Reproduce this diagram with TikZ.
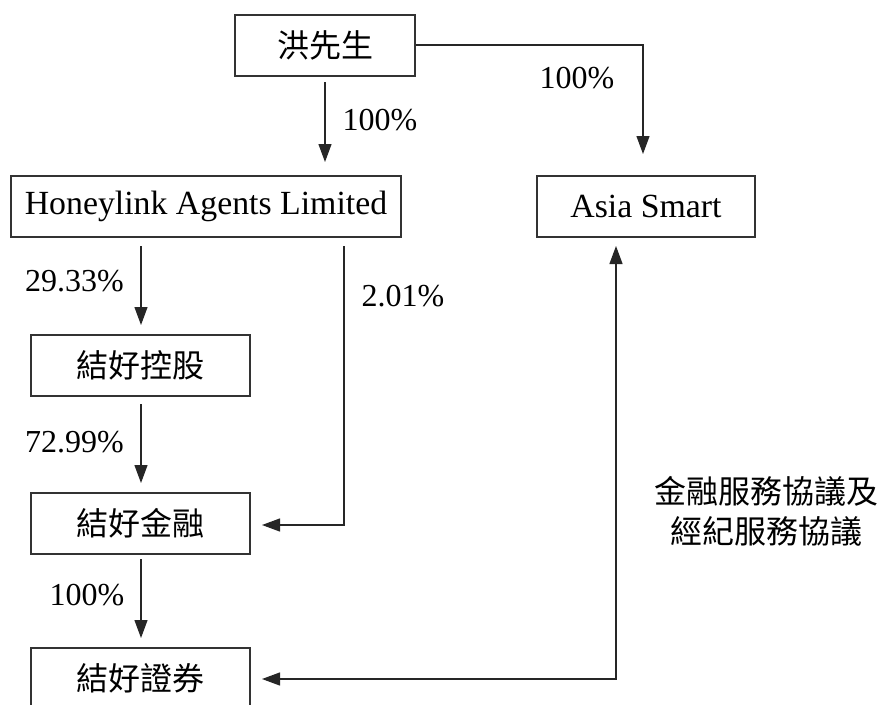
\documentclass[tikz,border=0pt]{standalone}
\usepackage{fontspec}
\setmainfont{Liberation Serif}
\newfontfamily\cjk{Noto Sans CJK TC}
\usetikzlibrary{arrows.meta}
\begin{document}
\begin{tikzpicture}[x=1pt,y=-1pt,
  box/.style={draw=black!80,line width=1.1pt,minimum height=61pt,inner sep=0pt,font=\fontsize{32}{36}\selectfont},
  latinbox/.style={box,font=\fontsize{33.8}{38}\selectfont},
  conn/.style={draw=black!85,line width=1.2pt},
  arr/.style={conn,-{Triangle[length=18pt,width=13pt]}},
  darr/.style={conn,{Triangle[length=18pt,width=13pt]}-{Triangle[length=18pt,width=13pt]}},
  lbl/.style={font=\fontsize{32}{36}\selectfont,inner sep=0pt}]
\clip (0,0) rectangle (880,704);
\fill[white] (0,0) rectangle (880,704);
% boxes
\node[box,minimum width=180pt] (hung) at (325,45.5) {\cjk 洪先生};
\node[latinbox,minimum width=390pt] (honey) at (206,206.5) {Honeylink Agents Limited};
\node[latinbox,minimum width=218pt] (asia) at (646,206.5) {Asia Smart};
\node[box,minimum width=219pt] (hold) at (140.5,365.5) {\cjk 結好控股};
\node[box,minimum width=219pt] (fin) at (140.5,523.5) {\cjk 結好金融};
\node[box,minimum width=219pt] (sec) at (140.5,678.5) {\cjk 結好證券};
% helper coordinates
\coordinate (c1s) at (325,82);
\coordinate (c1e) at (325,162);
\coordinate (c2a) at (643,45);
\coordinate (c2e) at (643,154);
\coordinate (c3s) at (141,246);
\coordinate (c3e) at (141,325);
\coordinate (c4s) at (344,246);
\coordinate (c4b) at (344,525);
\coordinate (c4e) at (262,525);
\coordinate (c5s) at (141,404);
\coordinate (c5e) at (141,483);
\coordinate (c6s) at (141,559);
\coordinate (c6e) at (141,638);
\coordinate (c7a) at (262,679);
\coordinate (c7b) at (616,679);
\coordinate (c7e) at (616,246);
% connectors
\draw[arr] (c1s) -- (c1e);
\draw[arr] (hung.east |- c2a) -- (c2a) -- (c2e);
\draw[arr] (c3s) -- (c3e);
\draw[arr] (c4s) -- (c4b) -- (c4e);
\draw[arr] (c5s) -- (c5e);
\draw[arr] (c6s) -- (c6e);
\draw[darr] (c7a) -- (c7b) -- (c7e);
% labels
\node[lbl] (l1) at (380,120) {100\%};
\node[lbl] (l2) at (577,78) {100\%};
\node[lbl] (l3) at (74.5,281) {29.33\%};
\node[lbl] (l4) at (403,296) {2.01\%};
\node[lbl] (l5) at (74.5,442) {72.99\%};
\node[lbl] (l6) at (87,595) {100\%};
\node[lbl,align=center,font=\fontsize{32}{40}\selectfont\cjk] (l7) at (766,511) {金融服務協議及\\經紀服務協議};
\end{tikzpicture}
\end{document}
